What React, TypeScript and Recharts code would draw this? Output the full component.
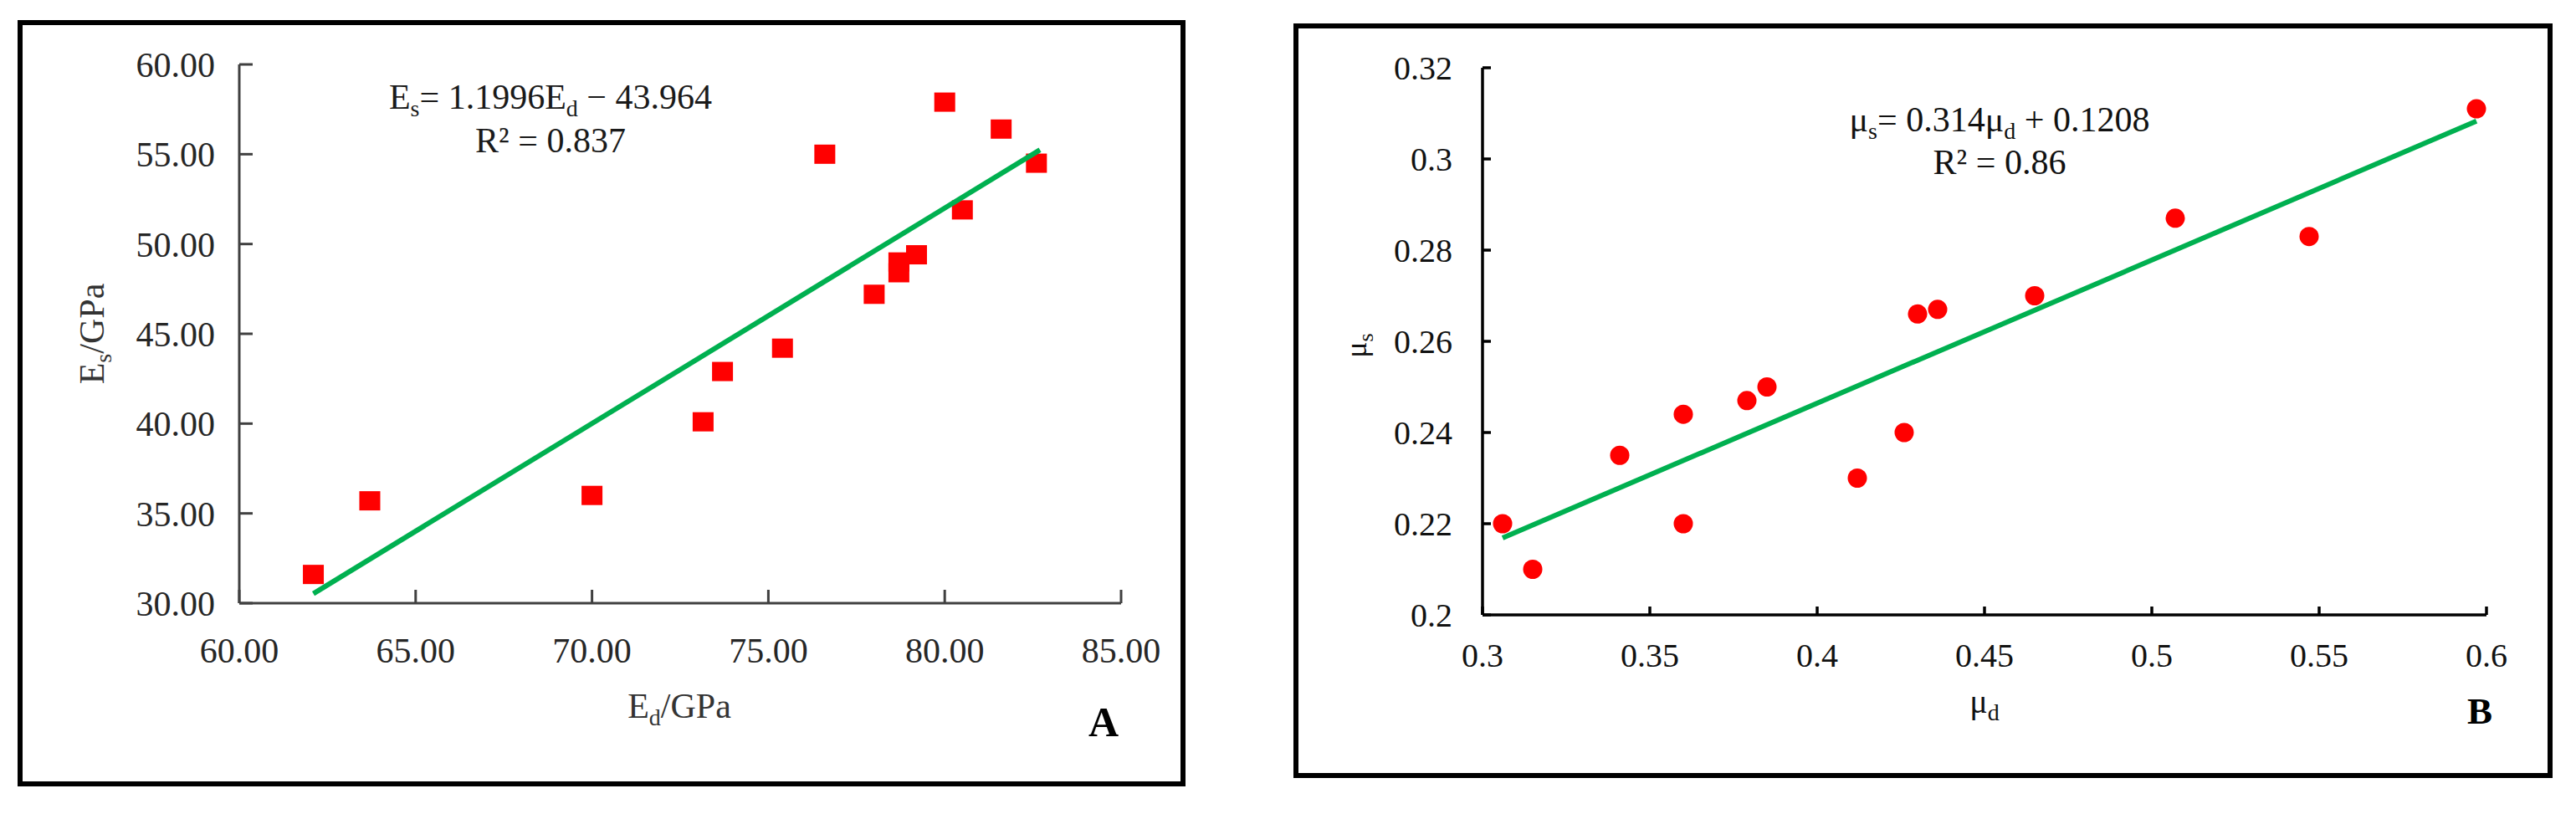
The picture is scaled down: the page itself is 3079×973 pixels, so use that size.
import { ScatterChart, Scatter, XAxis, YAxis } from 'recharts'

// panel A: static vs dynamic elastic modulus
const edValues = [62.1, 63.7, 70.0, 73.15, 73.7, 75.4, 76.6, 78.0, 78.7, 78.7, 79.2, 80.0, 80.5, 81.6, 82.6]
const esValues = [31.6, 35.7, 36.0, 40.1, 42.9, 44.2, 55.0, 47.2, 49.0, 48.4, 49.4, 57.9, 51.9, 56.4, 54.5]
const trendEd = [62.1, 82.7]
const trendEs = [30.53, 55.24]
const xTicksA = [60, 65, 70, 75, 80, 85]
const yTicksA = [30, 35, 40, 45, 50, 55, 60]

// panel B: static vs dynamic poisson ratio
const muD = [0.306, 0.315, 0.341, 0.36, 0.36, 0.379, 0.385, 0.412, 0.426, 0.43, 0.436, 0.465, 0.507, 0.547, 0.597]
const muS = [0.22, 0.21, 0.235, 0.244, 0.22, 0.247, 0.25, 0.23, 0.24, 0.266, 0.267, 0.27, 0.287, 0.283, 0.311]
const trendMuD = [0.306, 0.597]
const trendMuS = [0.2169, 0.3083]
const xTicksB = [0.3, 0.35, 0.4, 0.45, 0.5, 0.55, 0.6]
const yTicksB = [0.2, 0.22, 0.24, 0.26, 0.28, 0.3, 0.32]

const SERIF = "'Liberation Serif', 'Times New Roman', serif"
const RED = '#ff0000'
const GREEN = '#00b050'

const pointsA = edValues.map((x, i) => ({ x, y: esValues[i] }))
const lineA = trendEd.map((x, i) => ({ x, y: trendEs[i] }))
const pointsB = muD.map((x, i) => ({ x, y: muS[i] }))
const lineB = trendMuD.map((x, i) => ({ x, y: trendMuS[i] }))

const Square = (p: any) => (
  <rect x={p.cx - 12.5} y={p.cy - 11.5} width={25} height={23} fill={RED} />
)
const Dot = (p: any) => <circle cx={p.cx} cy={p.cy} r={11.5} fill={RED} />
const Nothing = () => <g />

const panel = (left: number, top: number, w: number, h: number): React.CSSProperties => ({
  position: 'absolute', left, top, width: w, height: h,
  border: '6px solid #000', boxSizing: 'border-box', background: '#fff',
})

export default function App() {
  const axA = { stroke: '#404040', strokeWidth: 3 }
  const axB = { stroke: '#000', strokeWidth: 3.5 }
  const tickA = { fill: '#262626', fontSize: 42, fontFamily: 'Liberation Serif' }
  const tickB = { fill: '#111', fontSize: 40, fontFamily: 'Liberation Serif' }

  return (
    <div style={{ position: 'absolute', left: 0, top: 0, width: 3079, height: 973, background: '#fff', fontFamily: SERIF }}>
      <div style={panel(21, 24, 1396, 916)}>
        <ScatterChart width={1384} height={904} margin={{ top: 47, right: 71, bottom: 63, left: 59 }}
          style={{ fontFamily: SERIF }}>
          <XAxis
            type="number" dataKey="x" domain={[60, 85]} ticks={xTicksA} interval={0}
            height={150} tickSize={-16} tickMargin={57}
            tickFormatter={(v: number) => v.toFixed(2)}
            tick={tickA} axisLine={axA} tickLine={axA}
          />
          <YAxis
            type="number" dataKey="y" domain={[30, 60]} ticks={yTicksA} interval={0}
            width={200} tickSize={-16} tickMargin={45}
            tickFormatter={(v: number) => v.toFixed(2)}
            tick={tickA} axisLine={axA} tickLine={axA}
          />
          <Scatter data={pointsA} shape={Square} isAnimationActive={false} />
          <Scatter data={lineA} shape={Nothing} line={{ stroke: GREEN, strokeWidth: 6 }} isAnimationActive={false} />
        </ScatterChart>
      </div>

      <div style={panel(1546, 28, 1505, 902)}>
        <ScatterChart width={1493} height={890} margin={{ top: 47, right: 73, bottom: 69, left: 60 }}
          style={{ fontFamily: SERIF }}>
          <XAxis
            type="number" dataKey="x" domain={[0.3, 0.6]} ticks={xTicksB} interval={0}
            height={120} tickSize={-10} tickMargin={44}
            tick={tickB} axisLine={axB} tickLine={axB}
          />
          <YAxis
            type="number" dataKey="y" domain={[0.2, 0.32]} ticks={yTicksB} interval={0}
            width={160} tickSize={-10} tickMargin={46}
            tick={tickB} axisLine={axB} tickLine={axB}
          />
          <Scatter data={pointsB} shape={Dot} isAnimationActive={false} />
          <Scatter data={lineB} shape={Nothing} line={{ stroke: GREEN, strokeWidth: 6 }} isAnimationActive={false} />
        </ScatterChart>
      </div>

      {/* equations, axis titles and panel letters */}
      <svg width={3079} height={973} style={{ position: 'absolute', left: 0, top: 0, pointerEvents: 'none' }}
        fontFamily={SERIF}>
        <g fill="#1a1a1a" fontSize={42}>
          <text x={658} y={130} textAnchor="middle">
            E<tspan fontSize={28} dy={9}>s</tspan><tspan dy={-9}>= 1.1996E</tspan>
            <tspan fontSize={28} dy={9}>d</tspan><tspan dy={-9}> − 43.964</tspan>
          </text>
          <text x={658} y={182} textAnchor="middle">R² = 0.837</text>
          <text x={812} y={858} textAnchor="middle" fill="#333">
            E<tspan fontSize={28} dy={9}>d</tspan><tspan dy={-9}>/GPa</tspan>
          </text>
          <text x={124} y={399} textAnchor="middle" fill="#333" transform="rotate(-90 124 399)">
            E<tspan fontSize={28} dy={9}>s</tspan><tspan dy={-9}>/GPa</tspan>
          </text>
          <text x={1319} y={880} textAnchor="middle" fontSize={50} fontWeight="bold" fill="#000">A</text>
        </g>
        <g fill="#111" fontSize={42}>
          <text x={2390} y={157} textAnchor="middle">
            μ<tspan fontSize={28} dy={9}>s</tspan><tspan dy={-9}>= 0.314μ</tspan>
            <tspan fontSize={28} dy={9}>d</tspan><tspan dy={-9}> + 0.1208</tspan>
          </text>
          <text x={2390} y={208} textAnchor="middle">R² = 0.86</text>
          <text x={2372} y={852} textAnchor="middle" fontSize={40}>
            μ<tspan fontSize={28} dy={9}>d</tspan>
          </text>
          <text x={1633} y={413} textAnchor="middle" fontSize={36} transform="rotate(-90 1633 413)">
            μ<tspan fontSize={26} dy={8}>s</tspan>
          </text>
          <text x={2964} y={865} textAnchor="middle" fontSize={45} fontWeight="bold" fill="#000">B</text>
        </g>
      </svg>
    </div>
  )
}
